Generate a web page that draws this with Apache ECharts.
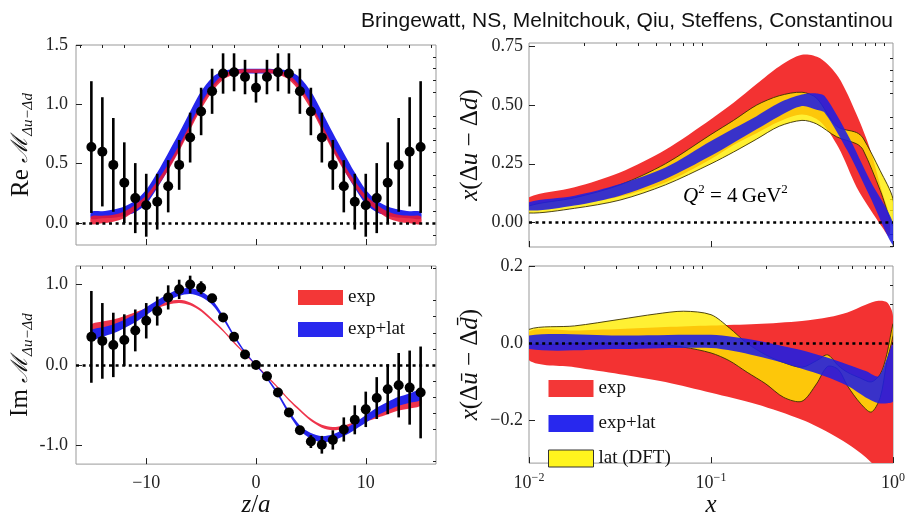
<!DOCTYPE html>
<html><head><meta charset="utf-8">
<script src="https://cdn.jsdelivr.net/npm/echarts@6/dist/echarts.min.js"></script>
<style>html,body{margin:0;padding:0;background:#fff}#c{width:910px;height:519px}</style>
</head><body><div id="c"></div>
<script>
// ---------------- DATA ----------------
const zVals = [-15,-14,-13,-12,-11,-10,-9,-8,-7,-6,-5,-4,-3,-2,-1,0,1,2,3,4,5,6,7,8,9,10,11,12,13,14,15];

const reVals = [0.64,0.60,0.49,0.34,0.21,0.15,0.18,0.31,0.49,0.72,0.94,1.11,1.26,1.27,1.23,1.14,1.23,1.27,1.26,1.11,0.94,0.72,0.49,0.31,0.18,0.15,0.21,0.34,0.49,0.60,0.64];
const reErrs = [0.555,0.46,0.395,0.34,0.295,0.265,0.235,0.22,0.21,0.21,0.2,0.19,0.17,0.16,0.145,0.125,0.145,0.16,0.17,0.19,0.2,0.21,0.21,0.22,0.235,0.265,0.295,0.34,0.395,0.46,0.555];
const reExpHi = [0.058,0.062,0.07,0.098,0.155,0.235,0.355,0.495,0.655,0.835,1.01,1.155,1.252,1.288,1.295,1.295,1.295,1.288,1.252,1.155,1.01,0.835,0.655,0.495,0.355,0.235,0.155,0.098,0.07,0.062,0.058];
const reExpLo = [-0.008,-0.002,0.01,0.042,0.105,0.185,0.305,0.445,0.605,0.785,0.96,1.105,1.208,1.252,1.265,1.265,1.265,1.252,1.208,1.105,0.96,0.785,0.605,0.445,0.305,0.185,0.105,0.042,0.01,-0.002,-0.008];
const reLatHi = [0.095,0.1,0.115,0.14,0.19,0.28,0.425,0.59,0.76,0.94,1.11,1.225,1.28,1.295,1.3,1.3,1.3,1.295,1.28,1.225,1.11,0.94,0.76,0.59,0.425,0.28,0.19,0.14,0.115,0.1,0.095];
const reLatLo = [0.035,0.04,0.045,0.06,0.09,0.16,0.295,0.45,0.62,0.80,0.99,1.135,1.22,1.255,1.26,1.26,1.26,1.255,1.22,1.135,0.99,0.80,0.62,0.45,0.295,0.16,0.09,0.06,0.045,0.04,0.035];

const imVals = [0.35,0.30,0.25,0.31,0.43,0.55,0.67,0.84,0.94,1.0,0.96,0.83,0.59,0.35,0.13,0.0,-0.14,-0.34,-0.59,-0.81,-0.95,-0.99,-0.93,-0.80,-0.68,-0.55,-0.41,-0.30,-0.25,-0.28,-0.34];
const imErrs = [0.57,0.47,0.40,0.32,0.26,0.22,0.18,0.15,0.12,0.11,0.08,0.05,0.03,0.025,0.02,0.02,0.02,0.025,0.03,0.05,0.08,0.11,0.12,0.15,0.18,0.22,0.26,0.31,0.40,0.46,0.57];
const imExpHi = [0.505,0.54,0.565,0.61,0.657,0.704,0.752,0.79,0.81,0.778,0.696,0.575,0.443,0.292,0.151,0.01,-0.129,-0.268,-0.417,-0.545,-0.664,-0.742,-0.77,-0.75,-0.708,-0.656,-0.603,-0.55,-0.495,-0.46,-0.415];
const imExpLo = [0.415,0.46,0.495,0.55,0.603,0.656,0.708,0.75,0.77,0.742,0.664,0.545,0.417,0.268,0.129,-0.01,-0.151,-0.292,-0.443,-0.575,-0.696,-0.778,-0.81,-0.79,-0.752,-0.704,-0.657,-0.61,-0.565,-0.54,-0.505];
const imLatHi = [0.43,0.468,0.505,0.562,0.63,0.718,0.805,0.882,0.94,0.957,0.915,0.81,0.615,0.38,0.175,0.01,-0.145,-0.34,-0.565,-0.75,-0.845,-0.883,-0.86,-0.798,-0.715,-0.622,-0.53,-0.458,-0.395,-0.352,-0.31];
const imLatLo = [0.31,0.352,0.395,0.458,0.53,0.622,0.715,0.798,0.86,0.883,0.845,0.75,0.565,0.34,0.145,-0.01,-0.175,-0.38,-0.615,-0.81,-0.915,-0.957,-0.94,-0.882,-0.805,-0.718,-0.63,-0.562,-0.505,-0.468,-0.43];

// x(Δu − Δd)
const pdfExpX  = [0.01,0.0178,0.0316,0.0562,0.1,0.133,0.178,0.237,0.316,0.398,0.501,0.631,0.75,0.871,0.955];
const pdfExpHi = [0.107,0.15,0.213,0.31,0.44,0.51,0.59,0.665,0.715,0.70,0.62,0.46,0.31,0.13,0.03];
const pdfExpLo = [0.055,0.075,0.11,0.17,0.27,0.33,0.38,0.43,0.46,0.43,0.32,0.15,0.055,-0.02,-0.06];
const pdfDftX  = [0.01,0.0178,0.0316,0.0562,0.1,0.133,0.178,0.237,0.316,0.38,0.49,0.631,0.684,0.851,1.0];
const pdfDftHi = [0.07,0.105,0.16,0.25,0.375,0.435,0.5,0.54,0.555,0.53,0.41,0.383,0.36,0.22,0.1];
const pdfDftLo = [0.04,0.06,0.095,0.16,0.25,0.3,0.355,0.41,0.435,0.42,0.365,0.335,0.31,0.136,-0.015];
const pdfLatX  = [0.01,0.0178,0.0316,0.0562,0.1,0.133,0.178,0.237,0.316,0.38,0.422,0.562,0.75,1.0];
const pdfLatHi = [0.086,0.114,0.164,0.234,0.347,0.4,0.453,0.51,0.545,0.55,0.538,0.376,0.178,0.0];
const pdfLatLo = [0.051,0.072,0.114,0.185,0.284,0.34,0.397,0.453,0.496,0.48,0.467,0.305,0.107,-0.097];

// x(Δū − Δd̄)
const seaExpX  = [0.01,0.0178,0.0316,0.0562,0.1,0.178,0.316,0.447,0.562,0.708,0.832,0.933,1.0];
const seaExpHi = [0.03,0.033,0.037,0.042,0.046,0.05,0.058,0.068,0.08,0.1,0.11,0.105,0.07];
const seaExpLo = [-0.044,-0.062,-0.08,-0.1,-0.128,-0.158,-0.198,-0.232,-0.26,-0.295,-0.33,-0.38,-0.45];
const seaDftX  = [0.01,0.0178,0.0316,0.05,0.0708,0.1,0.126,0.158,0.2,0.251,0.316,0.38,0.437,0.501,0.562,0.661,0.759,0.851,0.923,1.0];
const seaDftHi = [0.036,0.045,0.062,0.076,0.083,0.074,0.04,0.0,-0.03,-0.05,-0.062,-0.045,-0.03,-0.058,-0.075,-0.09,-0.1,-0.08,-0.03,0.05];
const seaDftLo = [0.0,0.0,0.0,-0.002,-0.01,-0.025,-0.045,-0.075,-0.105,-0.14,-0.15,-0.105,-0.06,-0.068,-0.11,-0.155,-0.178,-0.14,-0.05,0.02];
const seaLatX  = [0.01,0.0316,0.1,0.133,0.178,0.237,0.316,0.422,0.562,0.708,0.832,0.933,1.0];
const seaLatHi = [0.02,0.02,0.022,0.016,0.007,-0.005,-0.018,-0.035,-0.055,-0.072,-0.085,-0.035,0.0];
const seaLatLo = [-0.015,-0.015,-0.012,-0.02,-0.033,-0.048,-0.066,-0.085,-0.11,-0.14,-0.155,-0.155,-0.15];

// tick positions
const zMajor = [-10,0,10];
const zMinor = [-16,-14,-12,-8,-6,-4,-2,2,4,6,8,12,14,16];
const reMajor = [0,0.5,1.0,1.5];
const reMinor = [-0.1,0.1,0.2,0.3,0.4,0.6,0.7,0.8,0.9,1.1,1.2,1.3,1.4];
const imMajor = [-1,0,1];
const imMinor = [-1.2,-0.8,-0.6,-0.4,-0.2,0.2,0.4,0.6,0.8,1.2];
const pdfMajor = [0,0.25,0.5,0.75];
const pdfMinor = [-0.1,-0.05,0.05,0.1,0.15,0.2,0.3,0.35,0.4,0.45,0.55,0.6,0.65,0.7];
const seaMajor = [-0.2,0,0.2];
const seaMinor = [-0.3,-0.25,-0.15,-0.1,-0.05,0.05,0.1,0.15];
const xMajor = [0.01,0.1,1];
const xMinor = [0.02,0.03,0.04,0.05,0.06,0.07,0.08,0.09,0.2,0.3,0.4,0.5,0.6,0.7,0.8,0.9];

// ---------------- STYLE ----------------
const SERIF = '"Liberation Serif","DejaVu Serif",serif';
const RED_L = 'rgba(236,24,50,0.88)';
const BLUE_L = 'rgb(36,36,236)';
const RED_R = 'rgb(243,50,50)';
const YEL = 'rgba(255,236,0,0.8)';
const BLUE_R = 'rgba(30,30,228,0.88)';

const grids = [
  {left:76, top:45, width:360, height:200},
  {left:76, top:266, width:360, height:202},
  {left:529, top:43, width:364, height:204},
  {left:529, top:266, width:364, height:201}
];

const tickStyle = {color:'#222', width:1};
const labelBase = {fontFamily:SERIF, fontSize:18, color:'#222'};

function axisPair(gi, type, min, max, majors, minors, label, extra) {
  const base = {gridIndex:gi, type:type, min:min, max:max, axisLine:{show:false, onZero:false}, splitLine:{show:false}};
  if (type === 'log') base.logBase = 10;
  const main = Object.assign({}, base, {
    axisTick:{show:true, inside:true, length:6, lineStyle:tickStyle, customValues:majors},
    axisLabel: label ? Object.assign({show:true, customValues:majors}, labelBase, label) : {show:false}
  }, extra || {});
  const minor = Object.assign({}, base, {
    axisTick:{show:true, inside:true, length:3, lineStyle:tickStyle, customValues:minors},
    axisLabel:{show:false}
  });
  return [main, minor];
}

const nameRich = {
  r:{fontFamily:SERIF, fontSize:25, color:'#111'},
  i:{fontFamily:SERIF, fontSize:25, fontStyle:'italic', color:'#111'},
  m:{fontFamily:'"DejaVu Serif",serif', fontSize:23, fontStyle:'italic', color:'#111'},
  s:{fontFamily:SERIF, fontSize:15, fontStyle:'italic', color:'#111', verticalAlign:'bottom', lineHeight:15},
  b:{fontFamily:SERIF, fontSize:18, color:'#222', lineHeight:22},
  p:{fontFamily:SERIF, fontSize:12, color:'#222', verticalAlign:'top', lineHeight:12}
};
function yName(txt, gap) {
  return {name:txt, nameLocation:'middle', nameRotate:90, nameGap:gap, nameTextStyle:{rich:nameRich, lineHeight:30}};
}
function xName(txt, gap) {
  return {name:txt, nameLocation:'middle', nameGap:gap, nameTextStyle:{rich:nameRich}};
}
const fmtDec = d => v => (v < 0 ? '-' : '') + Math.abs(v).toFixed(d);
const fmtDecU = d => v => (v < 0 ? '\u2212' : '') + Math.abs(v).toFixed(d);

const xAxes = [].concat(
  axisPair(0,'value',-16.4,16.4,zMajor,zMinor,null),
  axisPair(1,'value',-16.4,16.4,zMajor,zMinor,{margin:10, formatter:v=>(v<0?'\u2212':'')+Math.abs(v)}, xName('{i|z}{r|/}{i|a}', 28)),
  axisPair(2,'log',0.01,1,xMajor,xMinor,null),
  axisPair(3,'log',0.01,1,xMajor,xMinor,{margin:9, formatter:v=>'{b|10}{p|'+(Math.round(Math.log10(v))<0?'\u2212':'')+Math.abs(Math.round(Math.log10(v)))+'}', rich:nameRich}, xName('{i|x}', 29))
);
const yAxes = [].concat(
  axisPair(0,'value',-0.185,1.5,reMajor,reMinor,{margin:8, formatter:fmtDec(1)}, yName('{r|Re }{m|\u2133}{s|\u0394u\u2212\u0394d}', 40)),
  axisPair(1,'value',-1.23,1.23,imMajor,imMinor,{margin:8, formatter:fmtDec(1)}, yName('{r|Im }{m|\u2133}{s|\u0394u\u2212\u0394d}', 40)),
  axisPair(2,'value',-0.105,0.765,pdfMajor,pdfMinor,{margin:6, formatter:fmtDec(2)}, yName('{i|x}{r|(\u0394}{i|u}{r| \u2212 \u0394}{i|d}{r|)}', 44)),
  axisPair(3,'value',-0.31,0.2,seaMajor,seaMinor,{margin:6, formatter:fmtDecU(1)}, yName('{i|x}{r|(\u0394}{i|\u016b}{r| \u2212 \u0394}{i|d\u0304}{r|)}', 44))
);

// ---------------- SERIES ----------------
function band(name, gi, xs, lo, hi, fill, stroke) {
  return {
    type:'custom', name:name, xAxisIndex:2*gi, yAxisIndex:2*gi, clip:true, silent:true,
    data:[[xs[0], lo[0]]], encode:{x:0, y:1},
    renderItem:function(params, api){
      const pts = [];
      for (let i = 0; i < xs.length; i++) pts.push(api.coord([xs[i], hi[i]]));
      for (let i = xs.length - 1; i >= 0; i--) pts.push(api.coord([xs[i], lo[i]]));
      return {type:'polygon', shape:{points:pts, smooth:0.3},
        style:{fill:fill, stroke:stroke || null, lineWidth:stroke ? 0.9 : 0}};
    }
  };
}
function errBars(gi, xs, vals, errs) {
  return {
    type:'custom', xAxisIndex:2*gi, yAxisIndex:2*gi, silent:true,
    data: xs.map((x,i)=>[x, vals[i]-errs[i], vals[i]+errs[i]]), encode:{x:0, y:[1,2]},
    renderItem:function(params, api){
      const a = api.coord([api.value(0), api.value(1)]);
      const b = api.coord([api.value(0), api.value(2)]);
      return {type:'line', shape:{x1:a[0], y1:a[1], x2:b[0], y2:b[1]}, style:{stroke:'#000', lineWidth:2.6}};
    }
  };
}
function points(gi, xs, vals) {
  return {type:'scatter', xAxisIndex:2*gi, yAxisIndex:2*gi, silent:true, symbol:'circle', symbolSize:10,
    itemStyle:{color:'#000', opacity:1}, data: xs.map((x,i)=>[x, vals[i]])};
}
function zeroLine(gi) {
  return {type:'line', xAxisIndex:2*gi, yAxisIndex:2*gi, data:[], silent:true, z:10,
    markLine:{silent:true, symbol:['none','none'], label:{show:false}, animation:false,
      lineStyle:{color:'#000', type:[3,3.6], width:2.6}, data:[{yAxis:0}]}};
}

const series = [
  band('exp+lat',0,zVals,reLatLo,reLatHi,BLUE_L),
  band('exp',0,zVals,reExpLo,reExpHi,RED_L),
  errBars(0,zVals,reVals,reErrs), points(0,zVals,reVals), zeroLine(0),

  band('exp',1,zVals,imExpLo,imExpHi,RED_L),
  band('exp+lat',1,zVals,imLatLo,imLatHi,BLUE_L),
  errBars(1,zVals,imVals,imErrs), points(1,zVals,imVals), zeroLine(1),

  band('exp',2,pdfExpX,pdfExpLo,pdfExpHi,RED_R),
  band('lat (DFT)',2,pdfDftX,pdfDftLo,pdfDftHi,YEL,'#3a3000'),
  band('exp+lat',2,pdfLatX,pdfLatLo,pdfLatHi,BLUE_R),
  zeroLine(2),

  band('exp',3,seaExpX,seaExpLo,seaExpHi,RED_R),
  band('lat (DFT)',3,seaDftX,seaDftLo,seaDftHi,YEL,'#3a3000'),
  band('exp+lat',3,seaLatX,seaLatLo,seaLatHi,BLUE_R),
  zeroLine(3)
];

const legendText = {fontFamily:SERIF, fontSize:19, color:'#111'};
const option = {
  animation:false,
  backgroundColor:'#fff',
  title:{text:'Bringewatt, NS, Melnitchouk, Qiu, Steffens, Constantinou', right:12, top:6,
    textStyle:{fontFamily:'"Liberation Sans",Arial,sans-serif', fontSize:21, fontWeight:'normal', color:'#111'}},
  grid: grids.map(g=>Object.assign({show:true, borderColor:'#999', borderWidth:1, backgroundColor:'transparent', containLabel:false}, g)),
  xAxis: xAxes,
  yAxis: yAxes,
  legend:[
    {left:298, top:288, orient:'vertical', icon:'rect', itemWidth:45, itemHeight:15, itemGap:13, padding:0,
      selectedMode:false, textStyle:legendText,
      data:[{name:'exp', itemStyle:{color:'rgb(243,55,55)'}}, {name:'exp+lat', itemStyle:{color:'rgb(40,40,238)'}}]},
    {left:548, top:379, orient:'vertical', icon:'rect', itemWidth:45, itemHeight:17, itemGap:16, padding:0,
      selectedMode:false, textStyle:legendText,
      data:[{name:'exp', itemStyle:{color:'rgb(243,55,55)'}}, {name:'exp+lat', itemStyle:{color:'rgb(40,40,238)'}},
            {name:'lat (DFT)', itemStyle:{color:'rgb(255,245,30)', borderColor:'#333', borderWidth:1}}]}
  ],
  graphic:[{type:'text', left:683, top:183, z:20,
    style:{text:'{i|Q}{p|2}{r| = 4\u2009GeV}{p|2}', rich:{
      i:{fontFamily:SERIF, fontSize:21, fontStyle:'italic', color:'#111', lineHeight:26},
      r:{fontFamily:SERIF, fontSize:21, color:'#111', lineHeight:26},
      p:{fontFamily:SERIF, fontSize:13, color:'#111', verticalAlign:'top', lineHeight:13}}}}],
  series: series
};
const chart = echarts.init(document.getElementById('c'), null, {renderer:'canvas'});
chart.setOption(option);
</script></body></html>
